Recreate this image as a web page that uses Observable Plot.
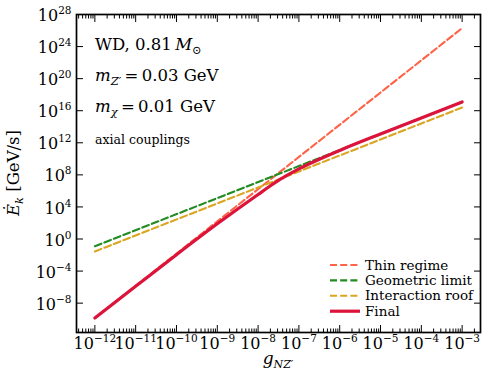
<!DOCTYPE html>
<html><head><meta charset="utf-8">
<script src="https://cdn.jsdelivr.net/npm/d3@7"></script>
<script src="https://cdn.jsdelivr.net/npm/@observablehq/plot@0.6"></script>
<style>
body{margin:0;background:#fff}
svg, svg text{font-family:"DejaVu Serif",serif !important}
</style>
</head><body><div id="chart"></div>
<script>
// ---- data (log10 values) ----
const lineXExp   = [-12, -3];          // straight dashed lines: endpoints in g
const thinExp    = [-9.85, 26.3];      // Thin regime
const geoExp     = [-0.9, 17.1];       // Geometric limit
const roofExp    = [-1.55, 16.4];      // Interaction roof
const finalXExp  = [-12, -11, -10, -9, -8.5, -8, -7.75, -7.5, -7.25, -7, -6.5, -6, -5, -4, -3];
const finalYExp  = [-9.85, -5.9, -1.95, 1.9, 3.75, 5.55, 6.45, 7.3, 8.05, 8.75, 9.95, 11.05, 13.1, 15.1, 17.1];
const xTickExp   = [-12, -11, -10, -9, -8, -7, -6, -5, -4, -3];
const yTickExp   = [-8, -4, 0, 4, 8, 12, 16, 20, 24, 28];
const seriesNames = ["Thin regime", "Geometric limit", "Interaction roof", "Final"];

// ---- styles ----
const colors = {"Thin regime": "tomato", "Geometric limit": "forestgreen", "Interaction roof": "goldenrod", "Final": "crimson"};
const xDomain = [10 ** -12.45, 10 ** -2.55];
const yDomain = [10 ** -11.66, 10 ** 28];

const straight = (name, ys) => lineXExp.map((e, i) => ({series: name, x: 10 ** e, y: 10 ** ys[i]}));
const thin = straight("Thin regime", thinExp);
const geo = straight("Geometric limit", geoExp);
const roof = straight("Interaction roof", roofExp);
const fin = finalXExp.map((e, i) => ({series: "Final", x: 10 ** e, y: 10 ** finalYExp[i]}));

const xMajor = xTickExp.map(e => 10 ** e);
const xMinor = [];
for (let e = -13; e <= -3; e++) for (let m = 2; m <= 9; m++) {
  const v = m * 10 ** e;
  if (v >= xDomain[0] && v <= xDomain[1]) xMinor.push(v);
}
const yMajor = yTickExp.map(e => 10 ** e);
const fmt = v => "10^" + Math.round(Math.log10(v));
const blank = () => "";

const dash = {strokeWidth: 2.1, strokeDasharray: "7,3.2"};
const chart = Plot.plot({
  width: 488, height: 381,
  marginLeft: 76, marginRight: 8, marginTop: 14, marginBottom: 49,
  style: {fontFamily: "'DejaVu Serif', serif", fontSize: "16px", background: "white", color: "black", overflow: "visible"},
  x: {type: "log", domain: xDomain},
  y: {type: "log", domain: yDomain},
  marks: [
    Plot.line(thin, {x: "x", y: "y", stroke: colors["Thin regime"], ...dash}),
    Plot.line(geo, {x: "x", y: "y", stroke: colors["Geometric limit"], ...dash}),
    Plot.line(roof, {x: "x", y: "y", stroke: colors["Interaction roof"], ...dash}),
    Plot.line(fin, {x: "x", y: "y", stroke: colors["Final"], strokeWidth: 3.2, curve: "monotone-x"}),
    Plot.axisX(xMajor, {anchor: "bottom", tickSize: -7, tickFormat: blank, label: null}),
    Plot.axisX(xMajor, {anchor: "top", tickSize: -7, tickFormat: blank, label: null}),
    Plot.axisX(xMinor, {anchor: "bottom", tickSize: -3.5, tickFormat: blank, label: null}),
    Plot.axisX(xMinor, {anchor: "top", tickSize: -3.5, tickFormat: blank, label: null}),
    Plot.axisX(xMajor, {anchor: "bottom", tickSize: 0, tickPadding: 5, tickFormat: fmt, label: null, fontSize: 16}),
    Plot.axisY(yMajor, {anchor: "left", tickSize: -7, tickFormat: blank, label: null}),
    Plot.axisY(yMajor, {anchor: "right", tickSize: -7, tickFormat: blank, label: null}),
    Plot.axisY(yMajor, {anchor: "left", tickSize: 0, tickPadding: 5, tickFormat: fmt, label: null, fontSize: 16, dy: 1.5}),
    Plot.frame({stroke: "black", strokeWidth: 1.7})
  ]
});
document.getElementById("chart").appendChild(chart);

const svg = d3.select(chart);
// superscript exponents for tick labels
svg.selectAll("text").each(function () {
  const t = this.textContent;
  if (!/^10\^/.test(t)) return;
  const exp = t.split("^")[1].replace("-", "\u2212");
  const sel = d3.select(this);
  sel.text("");
  sel.append("tspan").text("10");
  sel.append("tspan").attr("font-size", 10.5).attr("dy", -7).text(exp);
});

// rich text helper
function rich(g, segs, attrs) {
  const t = g.append("text").attr("text-anchor", "start");
  for (const [k, v] of Object.entries(attrs)) t.attr(k, v);
  let shift = 0;
  for (const s of segs) {
    const sp = t.append("tspan").text(s.t);
    if (s.it) sp.attr("font-style", "italic");
    const want = s.sub ? 4 : 0;
    if (want !== shift) { sp.attr("dy", want - shift); shift = want; }
    if (s.sub) sp.attr("font-size", s.size || 11.5);
  }
  return t;
}
const g = svg.append("g").attr("fill", "black");
const left = 95;
rich(g, [{t: "WD, 0.81\u2009"}, {t: "M", it: true}, {t: "\u2299", sub: true}], {x: left, y: 49.5, "font-size": 16.5});
rich(g, [{t: "m", it: true}, {t: "Z\u2032", it: true, sub: true}, {t: "\u2009=\u20090.03 GeV"}], {x: left, y: 81, "font-size": 16.5});
rich(g, [{t: "m", it: true}, {t: "\u03c7", it: true, sub: true}, {t: "\u2009=\u20090.01 GeV"}], {x: left, y: 112, "font-size": 16.5});
rich(g, [{t: "axial couplings"}], {x: left, y: 144, "font-size": 12.5});

// axis labels
rich(g, [{t: "g", it: true}, {t: "NZ\u2032", it: true, sub: true, size: 11}], {x: 278, y: 364, "font-size": 17, "text-anchor": "middle"});
rich(g, [{t: "\u0116", it: true}, {t: "k", it: true, sub: true}, {t: " [GeV/s]"}], {transform: "translate(19,173) rotate(-90)", "font-size": 16.5, "text-anchor": "middle"});

// legend
const lg = svg.append("g");
seriesNames.forEach((name, i) => {
  const cy = 265 + i * 15.4;
  const ln = lg.append("line").attr("x1", 330).attr("x2", 360).attr("y1", cy).attr("y2", cy)
    .attr("stroke", colors[name]);
  if (name === "Final") ln.attr("stroke-width", 3.2);
  else ln.attr("stroke-width", 2.1).attr("stroke-dasharray", "7,3.2");
  lg.append("text").attr("x", 365).attr("y", cy + 4.5).attr("font-size", 13.5)
    .attr("text-anchor", "start").attr("fill", "black").text(name);
});
</script>
</body></html>
